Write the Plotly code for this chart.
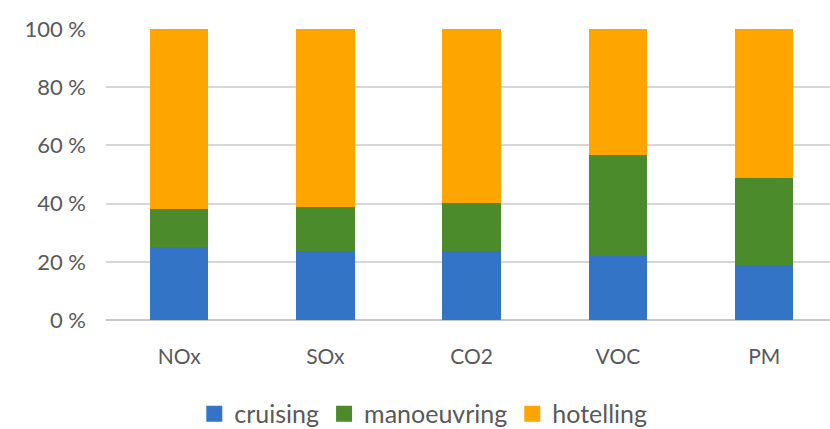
import plotly.graph_objects as go

# Share of emissions by operating mode (%)
pollutants = ["NOx", "SOx", "CO2", "VOC", "PM"]
cruising = [25.2, 23.7, 23.7, 22.0, 18.9]
manoeuvring = [12.9, 15.2, 16.6, 34.7, 30.0]
hotelling = [61.9, 61.1, 59.7, 43.3, 51.1]
y_ticks = [0, 20, 40, 60, 80, 100]
y_tick_labels = [f"{v} %" for v in y_ticks]

series = [
    ("cruising", cruising, "#3474c6"),
    ("manoeuvring", manoeuvring, "#4b8b2b"),
    ("hotelling", hotelling, "#ffa500"),
]

FONT = "Lato, 'Open Sans', sans-serif"
GREY = "#595959"

fig = go.Figure()
for name, vals, color in series:
    fig.add_trace(go.Bar(
        x=pollutants, y=vals, name=name, marker_color=color,
        marker_line_width=0, width=0.4, showlegend=False,
    ))
# square swatches for the legend
for name, vals, color in series:
    fig.add_trace(go.Scatter(
        x=[None], y=[None], mode="markers", name=name,
        marker=dict(symbol="square", size=17, color=color),
    ))

fig.update_layout(
    width=830, height=429,
    margin=dict(l=106, r=0, t=29, b=109),
    barmode="stack",
    plot_bgcolor="white", paper_bgcolor="white",
    font=dict(family=FONT, color=GREY, size=20),
    legend=dict(
        orientation="h", xref="container", yref="container",
        x=0.51, xanchor="center", y=0.035, yanchor="middle",
        font=dict(size=25, color=GREY), itemwidth=30,
        traceorder="normal", tracegroupgap=0,
    ),
    xaxis=dict(
        range=[-0.5, 4.45], showgrid=False, zeroline=False,
        showline=False, ticks="", ticklabelstandoff=22,
        tickfont=dict(size=21, color=GREY),
    ),
    yaxis=dict(
        range=[0, 100], tickmode="array", tickvals=y_ticks,
        ticktext=y_tick_labels,
        showgrid=True, gridcolor="#d6d6d6", gridwidth=2,
        zeroline=True, zerolinecolor="#c8c8c8", zerolinewidth=2,
        showline=False, ticks="", ticklabelstandoff=19,
        tickfont=dict(size=22, color=GREY),
    ),
)

fig.write_html("out.html")
